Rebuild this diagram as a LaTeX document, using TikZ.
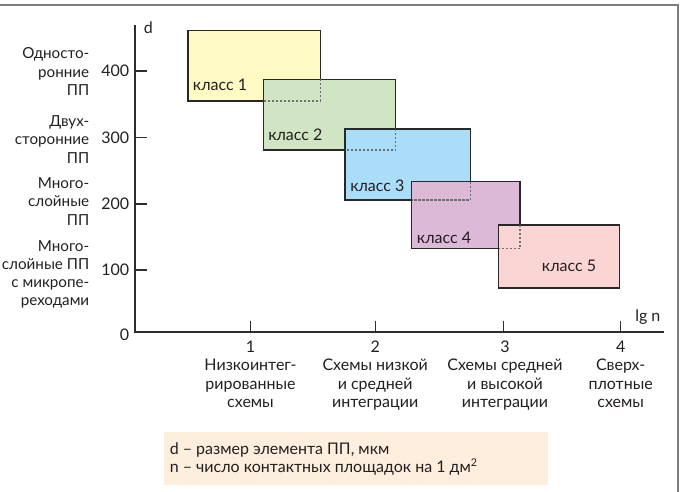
\documentclass[tikz,border=0pt]{standalone}
\usepackage{fontspec}
\setmainfont{Lato}
\definecolor{txt}{RGB}{35,31,32}
\definecolor{boxline}{RGB}{40,40,40}
\definecolor{hidline}{RGB}{110,110,110}
\definecolor{axline}{RGB}{45,45,45}
\definecolor{framec}{RGB}{125,125,125}
\definecolor{kA}{RGB}{255,249,196}
\definecolor{kB}{RGB}{208,229,196}
\definecolor{kC}{RGB}{170,222,248}
\definecolor{kD}{RGB}{221,185,216}
\definecolor{kE}{RGB}{250,213,211}
\definecolor{leg}{RGB}{253,238,222}
\begin{document}
\begin{tikzpicture}[x=0.75pt,y=-0.75pt,
  lbl/.style={font=\fontsize{12}{13.7}\selectfont, text=txt, inner sep=0pt},
  sidelbl/.style={lbl, font=\fontsize{11.4}{13.7}\selectfont, anchor=base east, align=right},
  cls/.style={draw=boxline, line width=0.9pt},
  hid/.style={draw=hidline, line width=0.8pt, dash pattern=on 1.6pt off 1.4pt},
  axis/.style={draw=axline, line width=1pt},
  framestyle/.style={draw=framec, line width=1.5pt}
]
\useasboundingbox (0,0) rectangle (682,492);
% frame
\draw[framestyle] (0,5.5) -- (677.5,5.5) -- (677.5,492);

% boxes
\coordinate (c1a) at (188,30.7);  \coordinate (c1b) at (320.6,101);
\coordinate (c2a) at (263.3,79.3); \coordinate (c2b) at (395.7,150);
\coordinate (c3a) at (345,129);   \coordinate (c3b) at (470.3,200);
\coordinate (c4a) at (411.7,181.7); \coordinate (c4b) at (520,248.7);
\coordinate (c5a) at (498.7,225); \coordinate (c5b) at (619.3,288);
\filldraw[cls, fill=kA] (c1a) rectangle (c1b);
\filldraw[cls, fill=kB] (c2a) rectangle (c2b);
\filldraw[cls, fill=kC] (c3a) rectangle (c3b);
\filldraw[cls, fill=kD] (c4a) rectangle (c4b);
\filldraw[cls, fill=kE] (c5a) rectangle (c5b);
\draw[hid] (c1b |- c2a) -- (c1b) -- (c1b -| c2a);
\draw[hid] (c2b |- c3a) -- (c2b) -- (c2b -| c3a);
\draw[hid] (c3b |- c4a) -- (c3b) -- (c3b -| c4a);
\draw[hid] (c4b |- c5a) -- (c4b) -- (c4b -| c5a);

\node[lbl, anchor=base west] (k1) at (192.7,90.5) {класс 1};
\node[lbl, anchor=base west] (k2) at (268,140.7) {класс 2};
\node[lbl, anchor=base west] (k3) at (350,191) {класс 3};
\node[lbl, anchor=base west] (k4) at (416.7,243.3) {класс 4};
\node[lbl, anchor=base west] (k5) at (541.7,271.7) {класс 5};

% axes
\coordinate (O) at (135,332);
\coordinate (ytop) at (135,25);
\coordinate (xend) at (664,332);
\draw[axis] (ytop) -- (O) -- (xend);
\node[lbl, anchor=base west] (dlab) at (143.5,33.3) {d};
\node[lbl, anchor=base west] (lgn) at (635,321) {lg n};

\foreach \v/\y in {400/71,300/137.7,200/204,100/270}{
  \draw[axis] (135,\y) -- (146.5,\y);
  \node[lbl, anchor=base east] (yt\v) at (129.4,\y+5.5) {\v};
}
\node[lbl, anchor=base east] (yt0) at (129.4,340.5) {0};

\foreach \n/\x in {1/250.5,2/375.2,3/503.7,4/620.7}{
  \draw[axis] (\x,332) -- (\x,321);
}
\node[lbl, anchor=base, align=center] (x1) at (250.5,407.5) {1\\Низкоинтег-\\рированные\\схемы};
\node[lbl, anchor=base, align=center] (x2) at (375.2,407.5) {2\\Схемы низкой\\и средней\\интеграции};
\node[lbl, anchor=base, align=center] (x3) at (505,407.5) {3\\Схемы средней\\и высокой\\интеграции};
\node[lbl, anchor=base, align=center] (x4) at (620.7,407.5) {4\\Сверх-\\плотные\\схемы};

% y-axis category labels
\node[sidelbl] (g1) at (89.5,95.5) {Односто-\\ронние\\ПП};
\node[sidelbl] (g2) at (89.5,163.2) {Двух-\\сторонние\\ПП};
\node[sidelbl] (g3) at (89.5,225) {Много-\\слойные\\ПП};
\node[sidelbl] (g4) at (89.5,305.8) {Много-\\слойные ПП\\с микропе-\\реходами};

% legend
\coordinate (la) at (164.2,431.7);
\coordinate (lb) at (548,485);
\fill[leg] (la) rectangle (lb);
\node[lbl, anchor=base west, align=left] (legtext) at (169.5,472.8) {d – размер элемента ПП, мкм\\n – число контактных площадок на 1 дм\textsuperscript{2}};
\end{tikzpicture}
\end{document}
